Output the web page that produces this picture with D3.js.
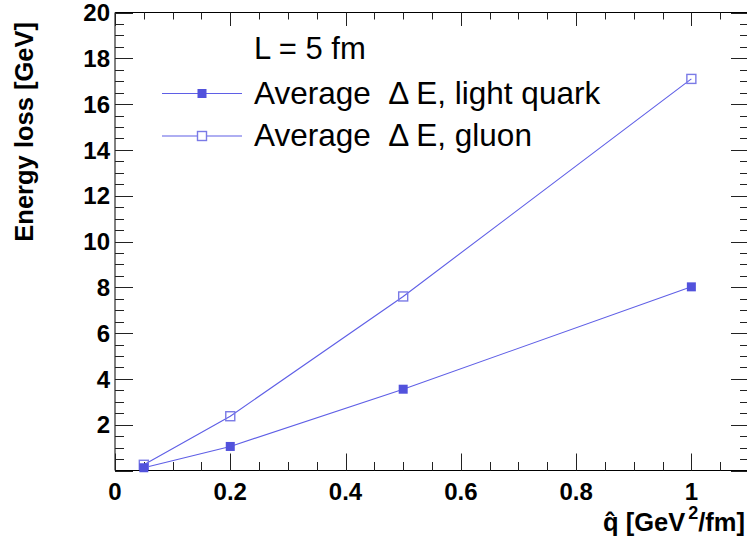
<!DOCTYPE html>
<html>
<head>
<meta charset="utf-8">
<script src="https://cdn.jsdelivr.net/npm/d3@7"></script>
<style>
  html, body { margin: 0; padding: 0; background: #fff; }
  svg { display: block; }
  text { font-family: "Liberation Sans", Arial, Helvetica, sans-serif; }
</style>
</head>
<body>
<svg id="chart" width="747" height="542"></svg>
<script>
// ---- data ----
const qhat = [0.05, 0.2, 0.5, 1.0];
const lightQuark = [0.12, 1.05, 3.55, 8.02];
const gluon = [0.25, 2.37, 7.6, 17.1];
const xTickLabels = ["0", "0.2", "0.4", "0.6", "0.8", "1"];
const yTickLabels = ["2", "4", "6", "8", "10", "12", "14", "16", "18", "20"];
const legendLabels = ["Average  \u0394 E, light quark", "Average  \u0394 E, gluon"];
const headerLabel = "L = 5 fm";

(function () {
const svg = d3.select("#chart");
const pLeft = 115, pRight = 749, pTop = 12.5, pBottom = 470.5;

const x = d3.scaleLinear().domain([0, 1.1]).range([pLeft, pRight]);
const y = d3.scaleLinear().domain([0, 20]).range([pBottom, pTop]);

const lineColor = "#5f5fe6";
const fillColor = "#5252dc";
const openColor = "#7a7ae6";

const g = svg.append("g");
// frame
[[pLeft, pTop, pLeft, pBottom], [pLeft, pBottom, pRight, pBottom], [pLeft, pTop, pRight, pTop], [pRight, pTop, pRight, pBottom]]
  .forEach(s => g.append("line").attr("x1", s[0]).attr("y1", s[1]).attr("x2", s[2]).attr("y2", s[3]).attr("stroke", "#000"));

// x ticks
const xMajor = xTickLabels.map(Number);
const xMinor = d3.range(0, 23).map(i => i * 0.05).filter(v => v <= 1.1 + 1e-9 && !xMajor.some(m => Math.abs(m - v) < 1e-9));
const tickColor = "#222";
const vt = (v, y1, y2) => g.append("line").attr("x1", Math.round(x(v)) + 0.5).attr("x2", Math.round(x(v)) + 0.5)
  .attr("y1", y1).attr("y2", y2).attr("stroke", tickColor);
xMajor.forEach(v => { vt(v, pBottom, pBottom - 17); vt(v, pTop, pTop + 13.5); });
xMinor.forEach(v => { vt(v, pBottom, pBottom - 8.5); vt(v, pTop, pTop + 7); });
// y ticks
const yMajor = d3.range(0, 21, 2);
const yMinor = d3.range(0, 40).map(i => i * 0.5).filter(v => v % 2 !== 0);
const ht = (v, len) => {
  const yy = Math.round(y(v)) + 0.5;
  g.append("line").attr("x1", pLeft).attr("x2", pLeft + len).attr("y1", yy).attr("y2", yy).attr("stroke", tickColor);
  g.append("line").attr("x1", pRight).attr("x2", pRight - len).attr("y1", yy).attr("y2", yy).attr("stroke", tickColor);
};
yMajor.forEach(v => ht(v, 18));
yMinor.forEach(v => ht(v, 9));

// tick labels
xTickLabels.forEach(t => {
  g.append("text").attr("x", x(+t)).attr("y", 500).attr("text-anchor", "middle")
    .attr("font-size", 24).attr("font-weight", "bold").text(t);
});
yTickLabels.forEach(t => {
  g.append("text").attr("x", 110).attr("y", y(+t)).attr("dy", "0.36em").attr("text-anchor", "end")
    .attr("font-size", 24).attr("font-weight", "bold").text(t);
});

// axis titles
g.append("text").attr("transform", "translate(33,22) rotate(-90)").attr("text-anchor", "end")
  .attr("font-size", 25.5).attr("font-weight", "bold").text("Energy loss [GeV]");
const xt = g.append("text").attr("x", 745).attr("y", 531).attr("text-anchor", "end")
  .attr("font-size", 25.5).attr("font-weight", "bold");
xt.append("tspan").text("q\u0302 [GeV");
xt.append("tspan").attr("dx", 3).attr("dy", -12).attr("font-size", 18).text("2");
xt.append("tspan").attr("dy", 12).text("/fm]");

// lines
const line = d3.line().x(d => x(d[0])).y(d => y(d[1]));
const lqPts = qhat.map((q, i) => [q, lightQuark[i]]);
const glPts = qhat.map((q, i) => [q, gluon[i]]);
g.append("path").datum(glPts).attr("d", line).attr("fill", "none").attr("stroke", lineColor).attr("stroke-width", 1.1);
g.append("path").datum(lqPts).attr("d", line).attr("fill", "none").attr("stroke", lineColor).attr("stroke-width", 1.1);

// markers
g.selectAll(".gl").data(glPts).enter().append("rect")
  .attr("x", d => x(d[0]) - 4.5).attr("y", d => y(d[1]) - 4.5).attr("width", 9).attr("height", 9)
  .attr("fill", "none").attr("stroke", openColor).attr("stroke-width", 1.4);
g.selectAll(".lq").data(lqPts).enter().append("rect")
  .attr("x", d => x(d[0]) - 4.5).attr("y", d => y(d[1]) - 4.5).attr("width", 9).attr("height", 9)
  .attr("fill", fillColor);

// legend
g.append("text").attr("x", 254).attr("y", 59).attr("font-size", 31).text(headerLabel);
const legY = [93.5, 136];
legendLabels.forEach((lab, i) => {
  g.append("line").attr("x1", 162).attr("x2", 242).attr("y1", legY[i]).attr("y2", legY[i])
    .attr("stroke", lineColor).attr("stroke-width", 1.1);
  if (i === 0) {
    g.append("rect").attr("x", 202 - 4.5).attr("y", legY[i] - 4.5).attr("width", 9).attr("height", 9).attr("fill", fillColor);
  } else {
    g.append("rect").attr("x", 202 - 4.5).attr("y", legY[i] - 4.5).attr("width", 9).attr("height", 9)
      .attr("fill", "#fff").attr("stroke", openColor).attr("stroke-width", 1.4);
  }
  g.append("text").attr("x", 254).attr("y", legY[i] + 10).attr("font-size", 31.5)
    .style("white-space", "pre").text(lab);
});
})();
</script>
</body>
</html>
